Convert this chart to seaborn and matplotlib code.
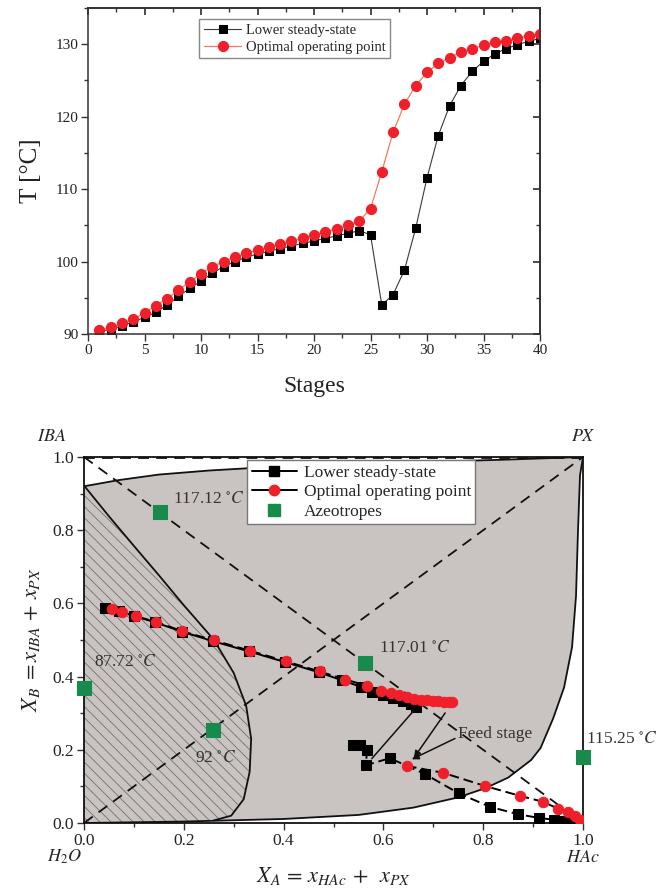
import numpy as np
import pandas as pd
import matplotlib
matplotlib.use("Agg")
import matplotlib.pyplot as plt
import seaborn as sns
from matplotlib.lines import Line2D
from matplotlib.ticker import MultipleLocator

# ---------------- data: temperature profiles ----------------
stages = list(range(1, 41))
T_lower = [90.4, 90.6, 91.15, 91.65, 92.3, 93.0, 94.0, 95.2, 96.3, 97.3,
           98.4, 99.3, 100.0, 100.6, 101.05, 101.4, 101.8, 102.15, 102.5, 102.85,
           103.2, 103.55, 103.9, 104.25, 103.7, 94.0, 95.45, 98.8, 104.6, 111.55,
           117.4, 121.5, 124.3, 126.25, 127.65, 128.65, 129.4, 129.95, 130.4, 130.8]
T_optimal = [90.6, 90.9, 91.5, 92.06, 92.9, 93.9, 94.9, 96.05, 97.2, 98.3,
             99.3, 100.0, 100.6, 101.15, 101.6, 102.0, 102.4, 102.8, 103.25, 103.7,
             104.1, 104.5, 105.0, 105.6, 107.3, 112.4, 117.85, 121.7, 124.3, 126.1,
             127.35, 128.15, 128.9, 129.4, 129.85, 130.25, 130.5, 130.9, 131.15, 131.4]

# ---------------- data: composition trajectories ----------------
opt_up_x = [0.056, 0.076, 0.104, 0.145, 0.197, 0.260, 0.332, 0.404, 0.472, 0.524,
            0.567, 0.596, 0.616, 0.632, 0.647, 0.662, 0.675, 0.688, 0.699, 0.710,
            0.721, 0.732, 0.738]
opt_up_y = [0.586, 0.576, 0.565, 0.549, 0.524, 0.499, 0.471, 0.442, 0.414, 0.392,
            0.375, 0.362, 0.355, 0.349, 0.344, 0.339, 0.337, 0.335, 0.333, 0.332,
            0.331, 0.330, 0.330]
opt_lo_x = [0.647, 0.720, 0.804, 0.874, 0.920, 0.950, 0.970, 0.984, 0.993, 1.0]
opt_lo_y = [0.156, 0.137, 0.101, 0.074, 0.058, 0.039, 0.030, 0.018, 0.009, 0.0]

low_up_x = [0.043, 0.070, 0.100, 0.143, 0.196, 0.258, 0.330, 0.402, 0.470, 0.517,
            0.555, 0.578, 0.600, 0.620, 0.640, 0.655, 0.666]
low_up_y = [0.588, 0.578, 0.566, 0.548, 0.523, 0.497, 0.469, 0.440, 0.412, 0.390,
            0.372, 0.359, 0.350, 0.341, 0.332, 0.324, 0.316]
low_lo_x = [0.539, 0.554, 0.567, 0.565, 0.613, 0.683, 0.751, 0.814, 0.870, 0.911,
            0.941, 0.959, 0.974, 0.989]
low_lo_y = [0.213, 0.213, 0.199, 0.158, 0.177, 0.134, 0.081, 0.044, 0.024, 0.014,
            0.009, 0.005, 0.003, 0.0]

azeo_x = [0.0, 0.152, 0.564, 0.258, 1.0]
azeo_y = [0.368, 0.851, 0.437, 0.253, 0.179]
azeo_labels = ["87.72 $^{\\circ}C$", "117.12 $^{\\circ}C$", "117.01 $^{\\circ}C$",
               "92 $^{\\circ}C$", "115.25 $^{\\circ}C$"]
azeo_label_pos = [(0.02, 0.44), (0.178, 0.886), (0.591, 0.478), (0.223, 0.177), (1.007, 0.23)]

# region boundaries
top_bx = [0.0, 0.07, 0.15, 0.25, 0.35, 0.5, 0.7, 0.85, 1.0]
top_by = [0.92, 0.937, 0.952, 0.963, 0.971, 0.979, 0.987, 0.993, 1.0]
right_bx = [1.0, 0.994, 0.99, 0.986, 0.978, 0.962, 0.94, 0.915, 0.896, 0.85, 0.804,
            0.75, 0.66, 0.55, 0.4, 0.2, 0.0]
right_by = [1.0, 0.95, 0.8, 0.62, 0.48, 0.37, 0.285, 0.205, 0.172, 0.124, 0.095,
            0.070, 0.042, 0.022, 0.011, 0.004, 0.0]
hatch_bx = [0.0, 0.05, 0.1, 0.15, 0.2, 0.26, 0.3, 0.325, 0.335, 0.332, 0.32, 0.295, 0.26]
hatch_by = [0.922, 0.838, 0.757, 0.677, 0.595, 0.501, 0.41, 0.32, 0.23, 0.14, 0.065, 0.02, 0.007]

# ---------------- style ----------------
sns.set_theme(style="ticks")
plt.rcParams["font.family"] = ["Liberation Serif", "DejaVu Serif"]
plt.rcParams["mathtext.fontset"] = "stix"
plt.rcParams["hatch.linewidth"] = 0.6
plt.rcParams["hatch.color"] = "#6e6e6e"

RED = "#f0202a"
GREEN = "#178a4c"
GRAY = "#c9c4c1"
SPINE = "#333333"

fig = plt.figure(figsize=(6.67, 8.93), dpi=100)

# ================= top chart =================
ax1 = fig.add_axes([88 / 667, 1 - 334 / 893, 452 / 667, 326 / 893])
df_t = pd.DataFrame({"stage": stages, "lower": T_lower, "opt": T_optimal})
sns.lineplot(data=df_t, x="stage", y="lower", ax=ax1, color="#3a3a3a", lw=0.8,
             marker="s", markersize=6.3, markerfacecolor="black", markeredgecolor="black",
             label="Lower steady-state", sort=False, estimator=None)
sns.lineplot(data=df_t, x="stage", y="opt", ax=ax1, color="#f47a5c", lw=0.9,
             marker="o", markersize=7.3, markerfacecolor=RED, markeredgecolor=RED,
             label="Optimal operating point", sort=False, estimator=None)
ax1.set_xlim(0, 40)
ax1.set_ylim(90, 135)
ax1.xaxis.set_major_locator(MultipleLocator(5))
ax1.xaxis.set_minor_locator(MultipleLocator(2.5))
ax1.yaxis.set_major_locator(MultipleLocator(10))
ax1.yaxis.set_minor_locator(MultipleLocator(5))
ax1.tick_params(which="major", direction="out", length=5, width=1, labelsize=11, colors=SPINE,
                labelcolor="#222222", pad=2)
ax1.tick_params(which="minor", direction="out", length=3, width=1, colors=SPINE)
for s in ax1.spines.values():
    s.set_visible(True)
    s.set_color(SPINE)
    s.set_linewidth(1.1)
sx = ax1.secondary_xaxis("top")
sx.xaxis.set_major_locator(MultipleLocator(5))
sx.xaxis.set_minor_locator(MultipleLocator(2.5))
sx.tick_params(which="major", direction="in", length=5, labeltop=False, colors=SPINE)
sx.tick_params(which="minor", direction="in", length=3, colors=SPINE)
sy = ax1.secondary_yaxis("right")
sy.yaxis.set_major_locator(MultipleLocator(10))
sy.yaxis.set_minor_locator(MultipleLocator(5))
sy.tick_params(which="major", direction="in", length=5, labelright=False, colors=SPINE)
sy.tick_params(which="minor", direction="in", length=3, colors=SPINE)
ax1.set_xlabel("Stages", fontsize=17, labelpad=14, color="#222222")
ax1.set_ylabel("T [°C]", fontsize=18, labelpad=10, color="#222222")
leg1 = ax1.legend(loc="upper left", bbox_to_anchor=(0.246, 0.965), fontsize=10.5,
                  frameon=True, fancybox=False, edgecolor="#888888", framealpha=1,
                  borderpad=0.3, labelspacing=0.25, handlelength=2.6, handletextpad=0.3,
                  borderaxespad=0)
leg1.get_frame().set_linewidth(1.0)

# ================= bottom chart =================
ax2 = fig.add_axes([84 / 667, 1 - 823 / 893, 499 / 667, 366 / 893])
ax2.set_xlim(0, 1)
ax2.set_ylim(0, 1)

# grey region (between top boundary and right boundary)
poly_x = top_bx + right_bx[1:]
poly_y = top_by + right_by[1:]
ax2.fill(poly_x, poly_y, color=GRAY, lw=0, zorder=0)
# hatched region
hx = hatch_bx + [0.2, 0.0]
hy = hatch_by + [0.004, 0.0]
ax2.fill(hx, hy, facecolor="none", edgecolor="#727272", hatch="\\\\\\", lw=0, zorder=1)
ax2.plot(top_bx, top_by, color="#111111", lw=1.3, zorder=2)
ax2.plot(right_bx, right_by, color="#111111", lw=1.3, zorder=2)
ax2.plot(hatch_bx, hatch_by, color="#111111", lw=1.3, zorder=2)

# dashed diagonals
dash = (0, (6, 4))
ax2.plot([0, 1], [1, 0], color="#111111", lw=1.3, ls=dash, zorder=2)
ax2.plot([0, 1], [0, 1], color="#111111", lw=1.3, ls=dash, zorder=2)
ax2.plot([0, 1], [0.997, 0.997], color="#111111", lw=1.3, ls=dash, zorder=2, clip_on=False)

# trajectories
sns.lineplot(x=low_up_x, y=low_up_y, ax=ax2, sort=False, estimator=None, color="black",
             lw=1.4, marker="s", markersize=6.5, markerfacecolor="black",
             markeredgecolor="black", zorder=4)
sns.lineplot(x=low_lo_x, y=low_lo_y, ax=ax2, sort=False, estimator=None, color="black",
             lw=1.4, ls=(0, (5, 2.5)), marker="s", markersize=6.5, markerfacecolor="black",
             markeredgecolor="black", zorder=4)
sns.lineplot(x=opt_up_x, y=opt_up_y, ax=ax2, sort=False, estimator=None, color="black",
             lw=1.4, ls=(0, (5, 2.5)), marker="o", markersize=7.5, markerfacecolor=RED,
             markeredgecolor=RED, zorder=5)
sns.lineplot(x=opt_lo_x, y=opt_lo_y, ax=ax2, sort=False, estimator=None, color="black",
             lw=1.4, ls=(0, (5, 2.5)), marker="o", markersize=7.5, markerfacecolor=RED,
             markeredgecolor=RED, zorder=5)
sns.scatterplot(x=azeo_x, y=azeo_y, ax=ax2, marker="s", s=95, color=GREEN,
                edgecolor=GREEN, zorder=6, clip_on=False)

for lab, (tx, ty) in zip(azeo_labels, azeo_label_pos):
    ax2.text(tx, ty, lab, fontsize=12.5, color="#333333", ha="left", va="center",
             zorder=7, clip_on=False)

# feed stage arrows
ax2.annotate("", xy=(0.573, 0.170), xytext=(0.666, 0.315),
             arrowprops=dict(arrowstyle="-", color="#111111", lw=1.1), zorder=6)
ax2.annotate("", xy=(0.658, 0.172), xytext=(0.727, 0.307),
             arrowprops=dict(arrowstyle="-|>", color="#111111", lw=1.1,
                             mutation_scale=10), zorder=6)
ax2.annotate("Feed stage", xy=(0.657, 0.174), xytext=(0.75, 0.244),
             fontsize=12.5, color="#333333", va="center", ha="left",
             arrowprops=dict(arrowstyle="-|>", color="#111111", lw=1.1,
                             mutation_scale=10, shrinkA=0, shrinkB=0,
                             relpos=(0.0, 0.3)), zorder=6)

# corner labels
ax2.text(-0.064, 1.055, "$IBA$", fontsize=13, ha="center", va="center", transform=ax2.transAxes)
ax2.text(1.0, 1.055, "$PX$", fontsize=13, ha="center", va="center", transform=ax2.transAxes)
ax2.text(-0.04, -0.093, "$H_2O$", fontsize=13, ha="center", va="center", transform=ax2.transAxes)
ax2.text(1.0, -0.093, "$HAc$", fontsize=13, ha="center", va="center", transform=ax2.transAxes)

ax2.xaxis.set_major_locator(MultipleLocator(0.2))
ax2.xaxis.set_minor_locator(MultipleLocator(0.1))
ax2.yaxis.set_major_locator(MultipleLocator(0.2))
ax2.yaxis.set_minor_locator(MultipleLocator(0.1))
ax2.xaxis.set_major_formatter(matplotlib.ticker.FormatStrFormatter("%.1f"))
ax2.yaxis.set_major_formatter(matplotlib.ticker.FormatStrFormatter("%.1f"))
ax2.tick_params(which="major", direction="out", length=5, width=1, labelsize=12.5,
                colors=SPINE, labelcolor="#222222", pad=2)
ax2.tick_params(which="minor", direction="out", length=3, width=1, colors=SPINE)
for s in ax2.spines.values():
    s.set_visible(True)
    s.set_color("#111111")
    s.set_linewidth(1.3)
    s.set_zorder(3)

ax2.set_xlabel(r"$X_A\,=\,x_{HAc}\,+\;\;x_{PX}$", fontsize=16, labelpad=12, color="#222222")
ax2.set_ylabel(r"$X_B\;=x_{IBA}\,+\,x_{PX}$", fontsize=16, labelpad=8, color="#222222")

handles = [
    Line2D([], [], color="black", lw=1.4, marker="s", markersize=6.5,
           markerfacecolor="black", markeredgecolor="black"),
    Line2D([], [], color="black", lw=1.4, marker="o", markersize=7.5,
           markerfacecolor=RED, markeredgecolor=RED),
    Line2D([], [], color="none", lw=0, marker="s", markersize=9,
           markerfacecolor=GREEN, markeredgecolor=GREEN),
]
leg2 = ax2.legend(handles, ["Lower steady-state", "Optimal operating point", "Azeotropes"],
                  loc="upper left", bbox_to_anchor=(0.327, 0.991), fontsize=12.5,
                  frameon=True, fancybox=False, edgecolor="#777777", framealpha=1,
                  borderpad=0.25, labelspacing=0.2, handlelength=2.6, handletextpad=0.4,
                  borderaxespad=0)
leg2.get_frame().set_linewidth(1.0)
leg2.set_zorder(10)

fig.savefig("out.png", dpi=100)
